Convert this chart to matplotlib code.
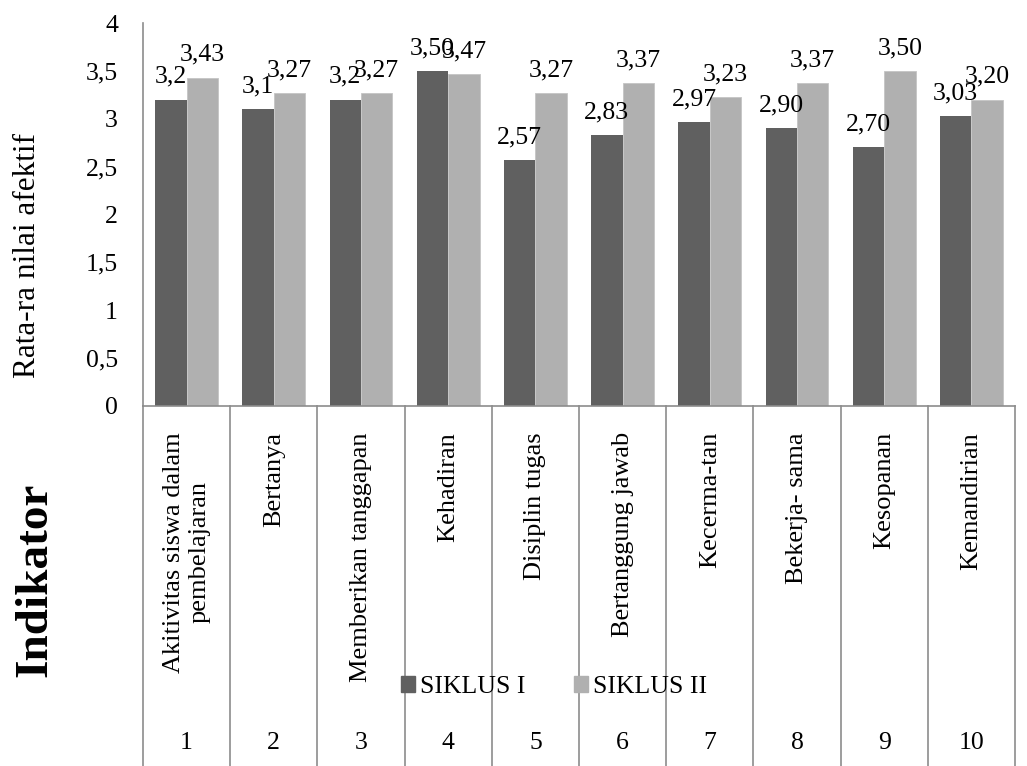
import numpy as np
import matplotlib.pyplot as plt
from matplotlib.patches import Patch

plt.rcParams['font.family'] = ['Liberation Serif', 'DejaVu Serif']

# indikator penilaian afektif
nomor = ['1', '2', '3', '4', '5', '6', '7', '8', '9', '10']
indikator = ['Akitivitas siswa dalam\npembelajaran', 'Bertanya', 'Memberikan tanggapan',
             'Kehadiran', 'Disiplin tugas', 'Bertanggung jawab', 'Kecerma-tan',
             'Bekerja- sama', 'Kesopanan', 'Kemandirian']

siklus1 = [3.2, 3.1, 3.2, 3.50, 2.57, 2.83, 2.97, 2.90, 2.70, 3.03]
siklus2 = [3.43, 3.27, 3.27, 3.47, 3.27, 3.37, 3.23, 3.37, 3.50, 3.20]
label1 = ['3,2', '3,1', '3,2', '3,50', '2,57', '2,83', '2,97', '2,90', '2,70', '3,03']
label2 = ['3,43', '3,27', '3,27', '3,47', '3,27', '3,37', '3,23', '3,37', '3,50', '3,20']

yticks = [0, 0.5, 1, 1.5, 2, 2.5, 3, 3.5, 4]
ytick_labels = ['0', '0,5', '1', '1,5', '2', '2,5', '3', '3,5', '4']

W, H = 1027, 766
fig = plt.figure(figsize=(W / 100, H / 100), dpi=100)
left, right, top, bottom = 143, 1015, 23, 406
ax = fig.add_axes([left / W, 1 - bottom / H, (right - left) / W, (bottom - top) / H])

x = np.arange(1, len(nomor) + 1)
bw = 0.36
c1, c2 = '#606060', '#b0b0b0'
ax.bar(x - bw / 2, siklus1, bw, color=c1, label='SIKLUS I')
ax.bar(x + bw / 2, siklus2, bw, color=c2, edgecolor='#c4c4c4', linewidth=0.6, label='SIKLUS II')

fs = 18.5
for xi, v, s in zip(x - bw / 2, siklus1, label1):
    ax.annotate(s, (xi, v), xytext=(0, 12), textcoords='offset points',
                ha='center', va='baseline', fontsize=fs)
for xi, v, s in zip(x + bw / 2, siklus2, label2):
    ax.annotate(s, (xi, v), xytext=(0, 12), textcoords='offset points',
                ha='center', va='baseline', fontsize=fs)

ax.set_xlim(0.5, len(nomor) + 0.5)
ax.set_ylim(0, 4)
ax.set_yticks(yticks)
ax.set_yticklabels(ytick_labels, fontsize=fs)
ax.tick_params(axis='y', length=0, pad=18)
ax.set_xticks([])
for side in ['top', 'right']:
    ax.spines[side].set_visible(False)
for side in ['left', 'bottom']:
    ax.spines[side].set_color('#8c8c8c')
    ax.spines[side].set_linewidth(1.2)

fig.text(28 / W, 1 - 256 / H, 'Rata-ra nilai afektif', rotation=90, ha='center', va='center',
         fontsize=22.5)

# tabel kategori di bawah sumbu
tr = ax.get_xaxis_transform()
depth = -(H - bottom) / (bottom - top)
for xb in np.arange(0.5, len(nomor) + 1):
    ax.plot([xb, xb], [0, depth], transform=tr, color='#8c8c8c', lw=1.2, clip_on=False)

for xi, name, n in zip(x, indikator, nomor):
    ax.text(xi, -0.068, name, transform=tr, rotation=90, ha='center', va='top',
            multialignment='center', fontsize=19)
    ax.text(xi, -0.88, n, transform=tr, ha='center', va='center', fontsize=fs)

fig.text(35 / W, 1 - 580 / H, 'Indikator', rotation=90, ha='center', va='center',
         fontsize=34, fontweight='bold')

handles = [Patch(color=c1), Patch(color=c2)]
fig.legend(handles, ['SIKLUS I', 'SIKLUS II'], loc='center', bbox_to_anchor=(554 / W, 1 - 687 / H),
           ncol=2, frameon=False, fontsize=fs, handlelength=0.55, handleheight=0.55,
           handletextpad=0.2, columnspacing=1.9)

fig.savefig('out.png', dpi=100)
